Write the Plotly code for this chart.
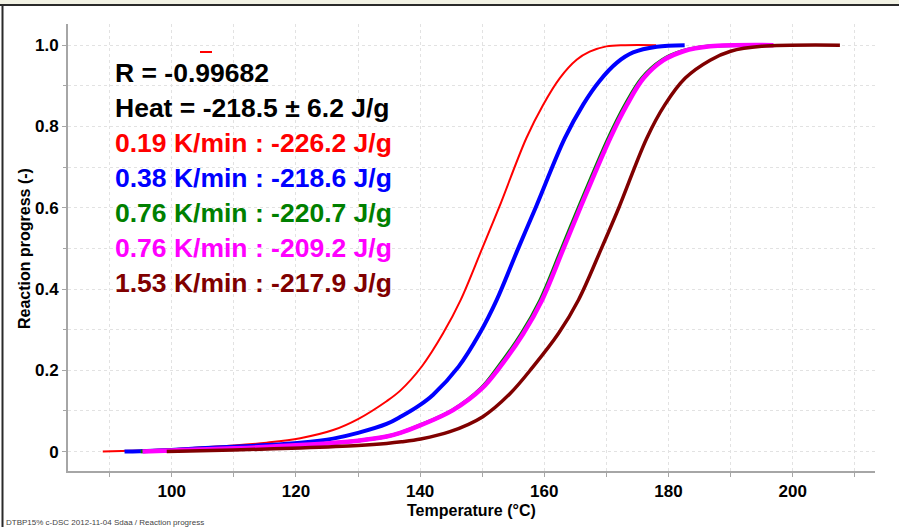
import plotly.graph_objects as go

# ---- data: reaction progress vs temperature for each heating rate ----
red_T = [88.9, 95.0, 100.0, 104.6, 110.0, 115.3, 120.7, 126.0, 130.0, 134.6, 136.8, 140.3,
         143.7, 146.5, 150.0, 152.7, 157.1, 159.8, 162.5, 165.2, 167.3, 170.0, 173.0, 178.0]
red_X = [0.000, 0.003, 0.006, 0.010, 0.015, 0.022, 0.033, 0.053, 0.080, 0.124, 0.150, 0.210,
         0.291, 0.372, 0.500, 0.600, 0.771, 0.853, 0.919, 0.964, 0.984, 0.997, 1.000, 1.000]

blue_T = [92.4, 100.0, 104.6, 110.0, 115.3, 120.7, 126.0, 130.0, 134.6, 137.0, 140.0, 142.1,
          146.2, 149.6, 152.3, 155.8, 158.6, 163.3, 166.3, 168.9, 171.7, 174.3, 178.1, 182.6]
blue_X = [0.000, 0.004, 0.008, 0.012, 0.016, 0.022, 0.032, 0.046, 0.068, 0.087, 0.115, 0.140,
          0.209, 0.291, 0.372, 0.500, 0.600, 0.771, 0.855, 0.912, 0.957, 0.982, 0.996, 1.000]

green_T = [95.0, 100.0, 104.6, 110.0, 120.7, 130.0, 134.6, 136.8, 140.0, 145.2, 149.8, 152.3,
           156.3, 159.3, 162.8, 165.5, 170.3, 173.0, 175.7, 178.9, 182.1, 186.4, 191.0]
green_X = [0.000, 0.003, 0.005, 0.008, 0.016, 0.027, 0.037, 0.046, 0.065, 0.102, 0.156, 0.203,
           0.290, 0.372, 0.500, 0.600, 0.771, 0.853, 0.919, 0.963, 0.985, 0.997, 1.000]

magenta_T = [95.3, 100.0, 104.6, 110.0, 120.7, 130.0, 134.6, 136.8, 140.1, 145.3, 150.0, 152.6,
             156.6, 159.6, 163.1, 165.8, 170.6, 173.3, 176.0, 179.2, 182.4, 186.7, 196.9]
magenta_X = [0.000, 0.003, 0.005, 0.008, 0.016, 0.027, 0.037, 0.046, 0.065, 0.102, 0.156, 0.203,
             0.290, 0.372, 0.500, 0.600, 0.771, 0.853, 0.919, 0.963, 0.985, 0.997, 1.000]

brown_T = [99.2, 104.6, 110.0, 120.7, 130.0, 134.6, 137.0, 140.1, 144.8, 150.1, 154.5, 158.2,
           162.3, 165.5, 169.2, 172.0, 176.5, 179.4, 182.7, 186.7, 190.0, 195.0, 207.6]
brown_X = [0.000, 0.002, 0.004, 0.009, 0.015, 0.020, 0.024, 0.031, 0.049, 0.086, 0.143, 0.209,
           0.291, 0.373, 0.500, 0.600, 0.771, 0.853, 0.919, 0.963, 0.985, 0.997, 1.000]

rates = ["0.19", "0.38", "0.76", "0.76", "1.53"]
heats = ["-226.2", "-218.6", "-220.7", "-209.2", "-217.9"]
colors = ["#ff0000", "#0000ff", "#008000", "#ff00ff", "#800000"]
widths = [2, 4, 3.5, 4.5, 3.5]
series_T = [red_T, blue_T, green_T, magenta_T, brown_T]
series_X = [red_X, blue_X, green_X, magenta_X, brown_X]

r_value = "-0.99682"
heat_mean = "-218.5"
heat_sd = "6.2"

x_ticks = [100, 120, 140, 160, 180, 200]
y_ticks = [0, 0.2, 0.4, 0.6, 0.8, 1.0]
y_ticktext = ["0", "0.2", "0.4", "0.6", "0.8", "1.0"]

footer = "DTBP15% c-DSC 2012-11-04 Sdaa / Reaction progress"

# ---- figure geometry (pixels) ----
W, H = 899, 527
PL, PR, PT, PB = 68, 875, 24, 471


def fx(px):
    return (px - PL) / (PR - PL)


def fy(py):
    return (PB - py) / (PB - PT)


FONT = "Liberation Sans, Arial, sans-serif"
GRID = "#e2e2e2"
AXIS = "#a6a6a6"

fig = go.Figure()
for T, X, c, w in zip(series_T, series_X, colors, widths):
    fig.add_trace(go.Scatter(x=T, y=X, mode="lines",
                             line=dict(color=c, width=w, shape="spline", smoothing=1.0),
                             hoverinfo="skip"))

fig.update_layout(
    width=W, height=H,
    margin=dict(l=PL, r=W - PR, t=PT, b=H - PB),
    paper_bgcolor="white", plot_bgcolor="white",
    showlegend=False,
    font=dict(family=FONT, color="black"),
)

fig.update_xaxes(
    range=[83.3, 213.25], tickvals=x_ticks,
    ticks="outside", ticklen=4, tickcolor=AXIS, tickwidth=1,
    showline=True, linecolor=AXIS, linewidth=2,
    showgrid=True, gridcolor=GRID, griddash="dot", gridwidth=1,
    zeroline=False,
    tickfont=dict(family=FONT, size=17, color="black", weight="bold"),
    minor=dict(dtick=10, tick0=0, ticks="outside", ticklen=4, tickcolor=AXIS,
               showgrid=True, gridcolor=GRID, griddash="dot"),
)
fig.update_yaxes(
    range=[-0.0477, 1.052], tickvals=y_ticks, ticktext=y_ticktext,
    ticks="outside", ticklen=4, tickcolor=AXIS, tickwidth=1,
    showline=True, linecolor=AXIS, linewidth=2,
    showgrid=True, gridcolor=GRID, griddash="dot", gridwidth=1,
    zeroline=False,
    tickfont=dict(family=FONT, size=17, color="black", weight="bold"),
    minor=dict(dtick=0.1, tick0=0, ticks="outside", ticklen=3, tickcolor=AXIS,
               showgrid=True, gridcolor=GRID, griddash="dot"),
)

shapes = [
    # white panel behind the result text
    dict(type="rect", xref="paper", yref="paper", x0=fx(100), x1=fx(415), y0=fy(300), y1=fy(50),
         fillcolor="white", line=dict(width=0), layer="between"),
    # small red tick near the top of the panel
    dict(type="line", xref="paper", yref="paper", x0=fx(200), x1=fx(212), y0=fy(52), y1=fy(52),
         line=dict(color="#ff0000", width=2)),
    # window frame
    dict(type="rect", xref="paper", yref="paper", x0=fx(0), x1=fx(W), y0=fy(4), y1=fy(0),
         fillcolor="#f2f2e4", line=dict(width=0)),
    dict(type="line", xref="paper", yref="paper", x0=fx(0), x1=fx(W), y0=fy(5), y1=fy(5),
         line=dict(color="#2a2a2a", width=2)),
    dict(type="line", xref="paper", yref="paper", x0=fx(2.5), x1=fx(2.5), y0=fy(H), y1=fy(5),
         line=dict(color="#2a2a2a", width=2)),
]
fig.update_layout(shapes=shapes)

ann = []
lines = [("R = " + r_value, "black"),
         ("Heat = " + heat_mean + " \u00b1 " + heat_sd + " J/g", "black")]
for r, h, c in zip(rates, heats, colors):
    lines.append((r + " K/min : " + h + " J/g", c))
for i, (txt, c) in enumerate(lines):
    ann.append(dict(x=fx(113), y=fy(73 + 35 * i), xref="paper", yref="paper",
                    xanchor="left", yanchor="middle", showarrow=False,
                    text="<b>" + txt + "</b>",
                    font=dict(family=FONT, size=26.5, color=c)))

ann.append(dict(x=fx(471), y=fy(510), xref="paper", yref="paper", showarrow=False,
                xanchor="center", yanchor="middle",
                text="<b>Temperature (\u00b0C)</b>", font=dict(family=FONT, size=16, color="black")))
ann.append(dict(x=fx(24.5), y=fy(248.5), xref="paper", yref="paper", showarrow=False,
                xanchor="center", yanchor="middle", textangle=-90,
                text="<b>Reaction progress (-)</b>", font=dict(family=FONT, size=16, color="black")))
ann.append(dict(x=fx(4), y=fy(522), xref="paper", yref="paper", showarrow=False,
                xanchor="left", yanchor="middle",
                text=footer, font=dict(family=FONT, size=8, color="#444444")))
fig.update_layout(annotations=ann)

fig.write_html("out.html")
